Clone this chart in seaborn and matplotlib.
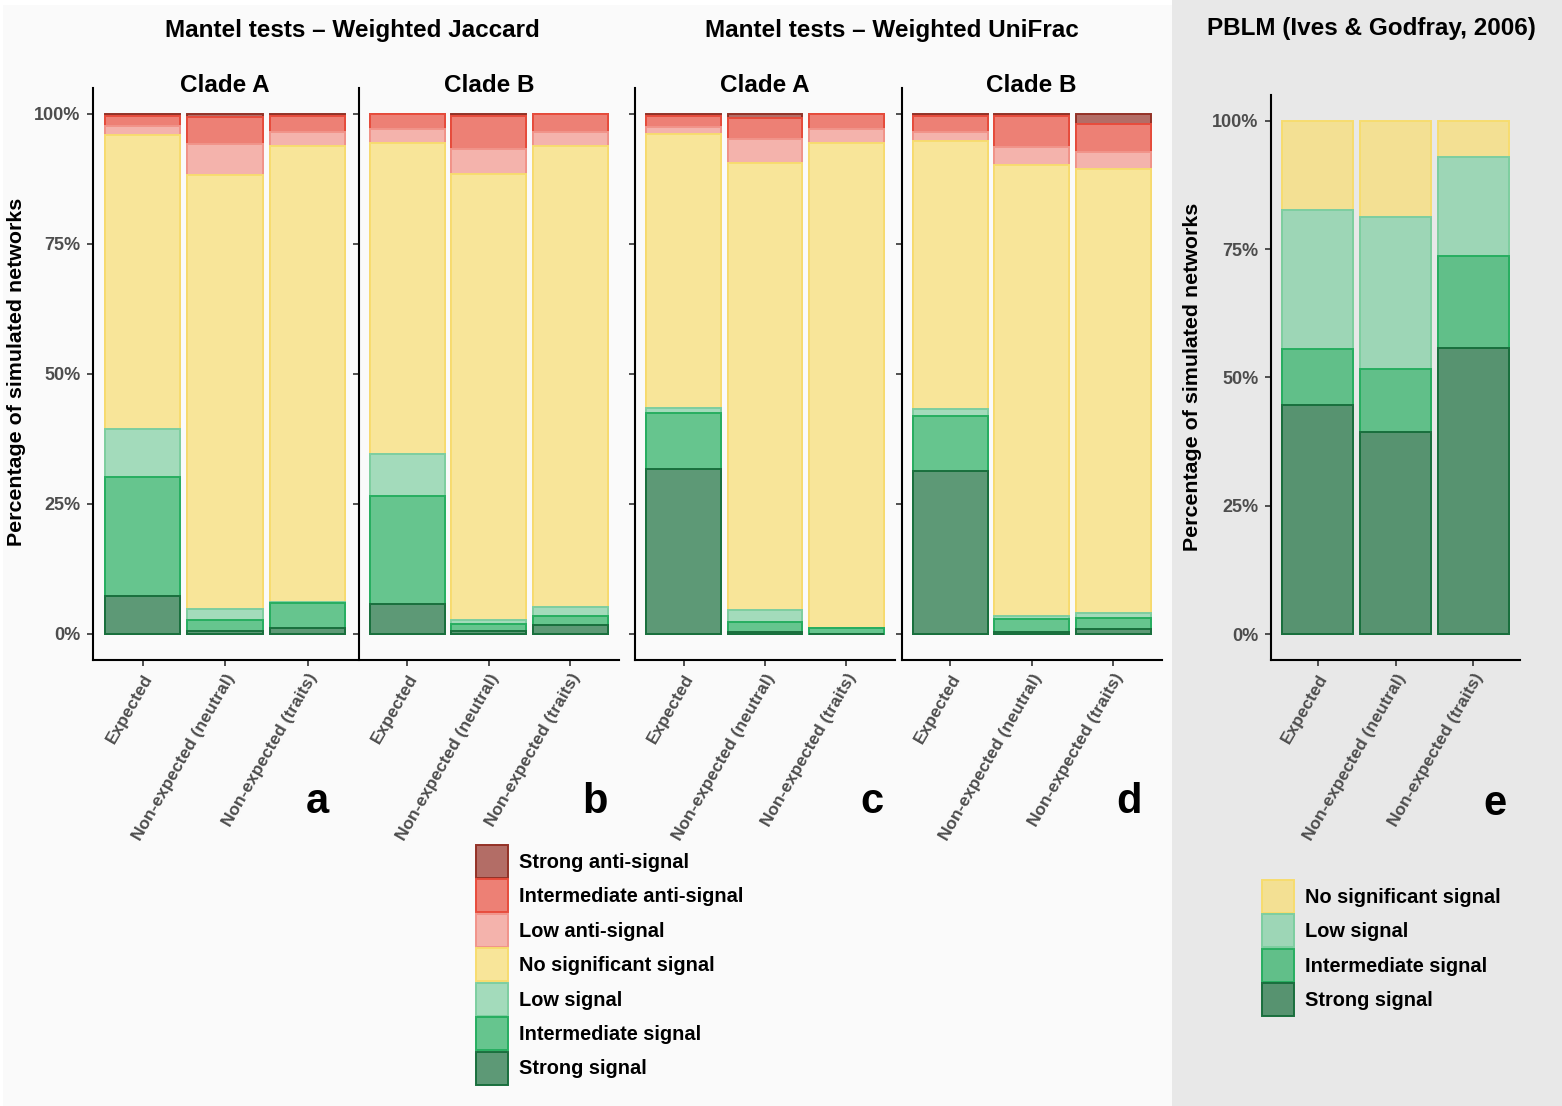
import numpy as np
import pandas as pd
import matplotlib
matplotlib.use("Agg")
from matplotlib import pyplot as plt
from matplotlib.patches import Patch, Rectangle
from matplotlib.colors import to_rgb
import seaborn as sns

sns.set_style("ticks")
plt.rcParams['font.family'] = ['Liberation Sans', 'DejaVu Sans']
plt.rcParams['text.color'] = 'black'

groups = ["Expected", "Non-expected (neutral)", "Non-expected (traits)"]

# signal levels from the bottom of the stack to the top
mantel_levels = ["Strong signal", "Intermediate signal", "Low signal", "No significant signal",
                 "Low anti-signal", "Intermediate anti-signal", "Strong anti-signal"]
mantel_colors = ["#196f3d", "#27ae60", "#7dcea0", "#f7dc6f", "#f1948a", "#e74c3c", "#943126"]
pblm_levels = ["Strong signal", "Intermediate signal", "Low signal", "No significant signal"]
pblm_colors = ["#196f3d", "#27ae60", "#7dcea0", "#f7dc6f"]

# percentage of simulated networks, one row per level, one column per group
jaccard_clade_a = [
    [7.3, 0.6, 1.2],
    [22.9, 2.1, 4.7],
    [9.2, 2.1, 0.2],
    [56.6, 83.5, 87.7],
    [1.7, 6.0, 2.8],
    [1.9, 5.2, 3.1],
    [0.4, 0.5, 0.3],
]
jaccard_clade_b = [
    [5.7, 0.5, 1.7],
    [20.9, 1.4, 1.7],
    [8.1, 0.8, 1.7],
    [59.8, 85.8, 88.8],
    [2.7, 4.7, 2.7],
    [2.8, 6.5, 3.4],
    [0.0, 0.3, 0.0],
]
unifrac_clade_a = [
    [31.7, 0.3, 0.0],
    [10.8, 2.1, 1.2],
    [1.0, 2.2, 0.0],
    [52.6, 85.9, 93.3],
    [1.4, 4.7, 2.7],
    [2.2, 4.0, 2.8],
    [0.3, 0.8, 0.0],
]
unifrac_clade_b = [
    [31.4, 0.3, 1.0],
    [10.5, 2.6, 2.1],
    [1.4, 0.5, 0.9],
    [51.5, 86.8, 85.4],
    [1.8, 3.4, 3.2],
    [3.1, 6.0, 5.4],
    [0.3, 0.4, 2.0],
]
pblm = [
    [44.6, 39.3, 55.8],
    [11.0, 12.3, 17.8],
    [27.0, 29.6, 19.4],
    [17.4, 18.8, 7.0],
]

W, H = 1562, 1106
BG_LEFT = "#fafafa"
BG_RIGHT = "#e8e8e8"


def blend(c, bg, a=0.7):
    c = np.array(to_rgb(c))
    b = np.array(to_rgb(bg))
    return tuple(a * c + (1 - a) * b)


def px_axes(fig, left, right, top, bottom):
    return fig.add_axes([left / W, 1 - bottom / H, (right - left) / W, (bottom - top) / H])


def draw_stack(ax, values, levels, colors, bg, ylabels=True):
    cum = np.cumsum(np.array(values), axis=0)
    # draw the tallest cumulative bar first, lower levels on top
    for k in range(len(levels) - 1, -1, -1):
        df = pd.DataFrame({"group": groups, "pct": cum[k]})
        sns.barplot(data=df, x="group", y="pct", order=groups, color=blend(colors[k], bg),
                    saturation=1, edgecolor=colors[k], linewidth=1.4, width=0.92,
                    errorbar=None, ax=ax)
    ax.set_facecolor("none")
    ax.set_xlim(-0.6, 2.6)
    ax.set_ylim(-5, 105)
    ax.set_xlabel("")
    ax.set_ylabel("")
    sns.despine(ax=ax)
    for s in ["left", "bottom"]:
        ax.spines[s].set_linewidth(1.5)
        ax.spines[s].set_color("black")
    ax.tick_params(direction="out", length=4, width=1.2, color="#333333")
    ax.set_yticks([0, 25, 50, 75, 100])
    if ylabels:
        ax.set_yticklabels(["0%", "25%", "50%", "75%", "100%"], fontsize=13,
                           fontweight="bold", color="#4d4d4d")
    else:
        ax.set_yticklabels([])
    ax.tick_params(axis="y", pad=5)
    ax.set_xticks([0, 1, 2])
    ax.set_xticklabels(groups, rotation=60, ha="right", va="top", rotation_mode="anchor",
                       fontsize=12.5, fontweight="bold", color="#4d4d4d")
    ax.tick_params(axis="x", pad=4)


fig = plt.figure(figsize=(W / 100, H / 100), dpi=100, facecolor="white")
fig.patches.append(Rectangle((3 / W, 0), (1172 - 3) / W, 1 - 5 / H, transform=fig.transFigure,
                             facecolor=BG_LEFT, edgecolor="none", zorder=-10))
fig.patches.append(Rectangle((1172 / W, 0), (W - 1172) / W, 1, transform=fig.transFigure,
                             facecolor=BG_RIGHT, edgecolor="none", zorder=-10))

panels = [
    (jaccard_clade_a, 93, 357, "Clade A", "a", 317, True),
    (jaccard_clade_b, 358.5, 619, "Clade B", "b", 595, False),
    (unifrac_clade_a, 635, 895, "Clade A", "c", 872, False),
    (unifrac_clade_b, 901.5, 1162, "Clade B", "d", 1129, False),
]
for values, x0, x1, clade, letter, lx, ylab in panels:
    ax = px_axes(fig, x0, x1, 88, 660)
    draw_stack(ax, values, mantel_levels, mantel_colors, BG_LEFT, ylabels=ylab)
    ax.text(0.5, (660 - 85) / 572, clade, transform=ax.transAxes, ha="center", va="center",
            fontsize=17.5, fontweight="bold")
    fig.text(lx / W, 1 - 802 / H, letter, ha="center", va="center", fontsize=30, fontweight="bold")

ax_e = px_axes(fig, 1271, 1520, 95, 660)
draw_stack(ax_e, pblm, pblm_levels, pblm_colors, BG_RIGHT)
fig.text(1495 / W, 1 - 804 / H, "e", ha="center", va="center", fontsize=30, fontweight="bold")

fig.text(352 / W, 1 - 30 / H, "Mantel tests – Weighted Jaccard", ha="center", va="center",
         fontsize=17.5, fontweight="bold")
fig.text(892 / W, 1 - 30 / H, "Mantel tests – Weighted UniFrac", ha="center", va="center",
         fontsize=17.5, fontweight="bold")
fig.text(1371 / W, 1 - 28 / H, "PBLM (Ives & Godfray, 2006)", ha="center", va="center",
         fontsize=17.5, fontweight="bold")
fig.text(17 / W, 1 - 372 / H, "Percentage of simulated networks", rotation=90, ha="center",
         va="center", fontsize=15.4, fontweight="bold")
fig.text(1192 / W, 1 - 377 / H, "Percentage of simulated networks", rotation=90, ha="center",
         va="center", fontsize=15.4, fontweight="bold")

# legends, top level first
leg_kw = dict(loc="upper left", frameon=False, borderpad=0, borderaxespad=0,
              handlelength=1.6, handleheight=2.15, handletextpad=0.55, labelspacing=0.08,
              prop={"size": 14.4, "weight": "bold"}, labelcolor="black")
h1 = [Patch(facecolor=blend(c, BG_LEFT), edgecolor=c, linewidth=1.4)
      for c in mantel_colors[::-1]]
fig.legend(h1, mantel_levels[::-1], bbox_to_anchor=(476 / W, 1 - 845 / H), **leg_kw)
h2 = [Patch(facecolor=blend(c, BG_RIGHT), edgecolor=c, linewidth=1.4)
      for c in pblm_colors[::-1]]
fig.legend(h2, pblm_levels[::-1], bbox_to_anchor=(1262 / W, 1 - 880 / H), **leg_kw)

fig.savefig("out.png", dpi=100, facecolor=fig.get_facecolor())
